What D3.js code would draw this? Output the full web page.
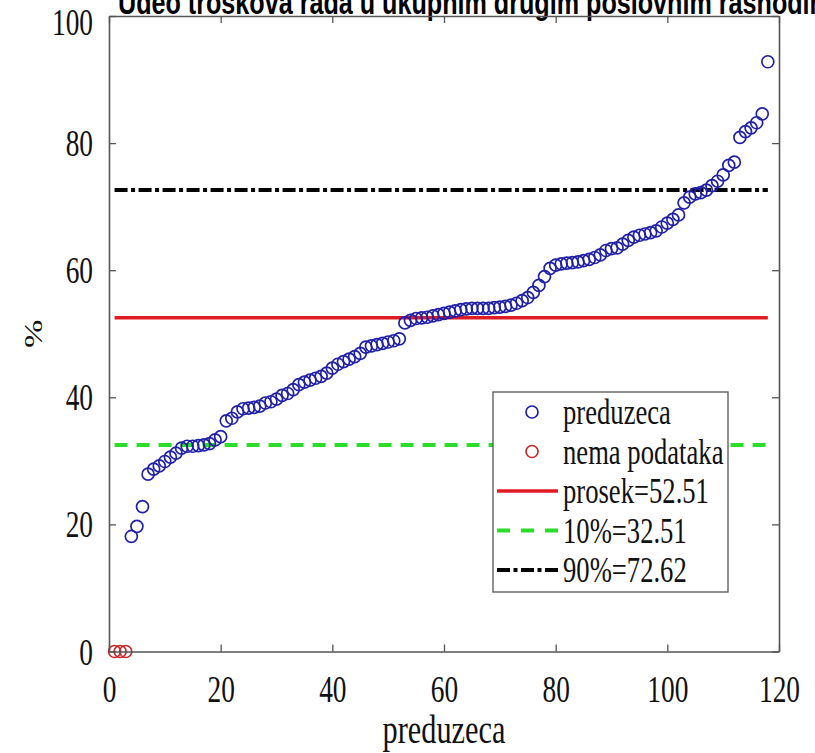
<!DOCTYPE html>
<html>
<head>
<meta charset="utf-8">
<script src="https://cdn.jsdelivr.net/npm/d3@7"></script>
<style>
	body { margin: 0; background: #fff; }
	svg { display: block; }
</style>
</head>
<body>
<svg id="chart" width="815" height="753"></svg>
<script>

// sorted values, companies 4..118
let companyValues = [
	18.1, 19.7, 22.8, 27.9, 28.7, 29.2, 29.9, 30.6, 31.2,
	32.0, 32.3, 32.3, 32.4, 32.5, 32.7, 33.3, 33.8,
	36.3, 36.7, 37.7, 38.2, 38.3, 38.4, 38.6, 39.1, 39.3, 39.7,
	40.3, 40.6, 41.2, 42.0, 42.4, 42.7, 43.0, 43.3, 43.8, 44.6,
	45.2, 45.6, 46.0, 46.4, 46.9, 47.9, 48.1, 48.3, 48.5, 48.7, 48.9, 49.2,
	51.7, 52.1, 52.4, 52.5, 52.6, 52.8, 53.0, 53.2, 53.4, 53.6,
	53.8, 53.9, 54.0, 54.0, 54.0, 54.0, 54.1, 54.2, 54.3, 54.5,
	54.8, 55.2, 55.7, 56.5, 57.6, 59.0, 60.3, 60.8, 61.0, 61.1,
	61.2, 61.3, 61.5, 61.7, 62.0, 62.4, 63.1, 63.4, 63.5, 64.1,
	64.7, 65.2, 65.5, 65.7, 65.9, 66.2, 66.8, 67.4, 68.0, 68.7,
	70.6, 71.5, 72.0, 72.2, 72.6, 73.3, 74.0, 75.0, 76.5, 77.0,
	80.9, 81.8, 82.4, 83.2, 84.6, 92.8
];
let firstCompany = 4;
let missingIdx = [1, 2, 3];
let missingValues = [0, 0, 0];

let statNames = ['prosek=52.51', '10%=32.51', '90%=72.62'];
let statValues = [52.51, 32.51, 72.62];
let statRange = [1, 118];

let legendNames = ['preduzeca', 'nema podataka'].concat(statNames);
let xTicks = [0, 20, 40, 60, 80, 100, 120];
let yTicks = [0, 20, 40, 60, 80, 100];
let titleText = 'Udeo troskova rada u ukupnim drugim poslovnim rashodima';

let plot = { left: 109, right: 779, top: 16, bottom: 651.5 };
let squeeze = 0.74;
let serif = '"Liberation Serif", "Times New Roman", serif';
let markR = 6;

let blue = '#2020a8';
let redMark = '#c62a2a';
let statStyle = [
	{ color: '#e01b22', width: 3.5, dash: null },
	{ color: '#2bdc2b', width: 4, dash: '13,9' },
	{ color: '#000000', width: 4, dash: '13,3.5,4,3.5' }
];

let svg = d3.select('#chart');
let x = d3.scaleLinear().domain([0, 120]).range([plot.left, plot.right]);
let y = d3.scaleLinear().domain([0, 100]).range([plot.bottom, plot.top]);

// title, clipped at the top edge like the original
svg.append('text')
	.attr('x', 118).attr('y', 14)
	.attr('font-family', '"Liberation Sans", Arial, sans-serif')
	.attr('font-weight', 'bold')
	.attr('font-size', 34)
	.attr('transform', 'translate(118,0) scale(' + squeeze + ',1) translate(-118,0)')
	.text(titleText);

// stat lines
let line = d3.line().x(d => x(d[0])).y(d => y(d[1]));
statValues.forEach((v, i) => {
	svg.append('path')
		.attr('d', line([[statRange[0], v], [statRange[1], v]]))
		.attr('fill', 'none')
		.attr('stroke', statStyle[i].color)
		.attr('stroke-width', statStyle[i].width)
		.attr('stroke-dasharray', statStyle[i].dash);
});

// points
svg.append('g').selectAll('circle')
	.data(companyValues)
	.join('circle')
	.attr('cx', (d, i) => x(i + firstCompany))
	.attr('cy', d => y(d))
	.attr('r', markR)
	.attr('fill', 'none')
	.attr('stroke', blue)
	.attr('stroke-width', 1.7);

svg.append('g').selectAll('circle')
	.data(missingValues)
	.join('circle')
	.attr('cx', (d, i) => x(missingIdx[i]))
	.attr('cy', d => y(d))
	.attr('r', markR)
	.attr('fill', 'none')
	.attr('stroke', redMark)
	.attr('stroke-width', 1.7);

// axes (box with inward ticks)
function styleAxis(g) {
	g.select('.domain').attr('stroke', '#555').attr('stroke-width', 1.6);
	g.selectAll('.tick line').attr('stroke', '#555').attr('stroke-width', 1.3);
	g.selectAll('text')
		.attr('font-family', serif)
		.attr('font-size', 37)
		.attr('fill', '#111');
}

let gx = svg.append('g')
	.attr('transform', `translate(0,${plot.bottom})`)
	.call(d3.axisBottom(x).tickValues(xTicks).tickSize(-7).tickSizeOuter(0).tickPadding(24));
styleAxis(gx);
gx.selectAll('text').attr('transform', `scale(${squeeze},1)`);

let gxTop = svg.append('g')
	.attr('transform', `translate(0,${plot.top})`)
	.call(d3.axisTop(x).tickValues(xTicks).tickSize(-7).tickSizeOuter(0).tickFormat(''));
styleAxis(gxTop);

let gy = svg.append('g')
	.attr('transform', `translate(${plot.left},0)`)
	.call(d3.axisLeft(y).tickValues(yTicks).tickSize(-7).tickSizeOuter(0).tickPadding(16));
styleAxis(gy);
gy.selectAll('text')
	.attr('dy', d => d === 100 ? '0.5em' : '0.34em')
	.attr('transform', `scale(${squeeze},1)`)
	.attr('x', -16 / squeeze);

let gyRight = svg.append('g')
	.attr('transform', `translate(${plot.right},0)`)
	.call(d3.axisRight(y).tickValues(yTicks).tickSize(-7).tickSizeOuter(0).tickFormat(''));
styleAxis(gyRight);

// axis labels
svg.append('text')
	.attr('text-anchor', 'middle')
	.attr('font-family', serif)
	.attr('font-size', 41)
	.attr('fill', '#111')
	.attr('transform', `translate(${(plot.left + plot.right) / 2},743) scale(${squeeze},1)`)
	.text('preduzeca');

svg.append('text')
	.attr('text-anchor', 'middle')
	.attr('font-family', serif)
	.attr('font-size', 34)
	.attr('fill', '#111')
	.attr('transform', `translate(42,${(plot.top + plot.bottom) / 2}) rotate(-90) scale(1,${squeeze})`)
	.text('%');

// legend
let lg = { x: 493, y: 392, w: 235, h: 200, row0: 412, rowH: 39.5 };
let legend = svg.append('g');
legend.append('rect')
	.attr('x', lg.x).attr('y', lg.y)
	.attr('width', lg.w).attr('height', lg.h)
	.attr('fill', '#fff')
	.attr('stroke', '#555')
	.attr('stroke-width', 1.3);

legendNames.forEach((name, i) => {
	let cy = lg.row0 + i * lg.rowH;
	if (i < 2) {
		legend.append('circle')
			.attr('cx', 532).attr('cy', cy).attr('r', markR)
			.attr('fill', 'none')
			.attr('stroke', i === 0 ? blue : redMark)
			.attr('stroke-width', 1.7);
	} else {
		let s = statStyle[i - 2];
		legend.append('line')
			.attr('x1', 497).attr('x2', 558)
			.attr('y1', cy).attr('y2', cy)
			.attr('stroke', s.color)
			.attr('stroke-width', s.width)
			.attr('stroke-dasharray', i === 3 ? '13,11' : s.dash);
	}
	legend.append('text')
		.attr('font-family', serif)
		.attr('font-size', 36)
		.attr('fill', '#111')
		.attr('dy', '0.34em')
		.attr('transform', `translate(563,${cy}) scale(${squeeze},1)`)
		.text(name);
});

</script>
</body>
</html>
